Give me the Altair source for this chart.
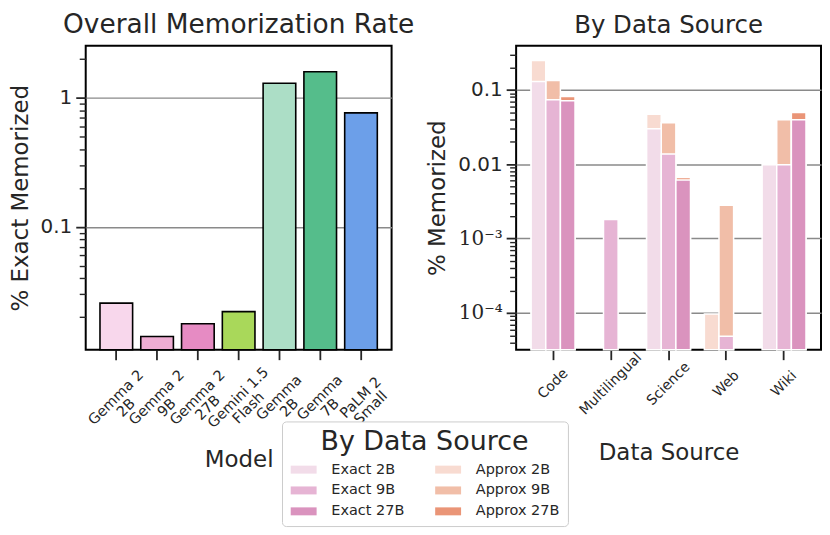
import altair as alt
import pandas as pd

# ---------------- data ----------------
models = ["Gemma 2\n2B", "Gemma 2\n9B", "Gemma 2\n27B", "Gemini 1.5\nFlash",
          "Gemma\n2B", "Gemma\n7B", "PaLM 2\nSmall"]
overall_rates = [0.0256, 0.0141, 0.0177, 0.0220, 1.30, 1.60, 0.766]
model_colors = ["#f8d7ec", "#eeadd3", "#e68bc3", "#a9d85a", "#acdec6", "#55bd8b", "#6c9fe9"]

sources = ["Code", "Multilingual", "Science", "Web", "Wiki"]
sizes = ["2B", "9B", "27B"]
exact_2b = [0.129, None, 0.030, None, 0.0098]
exact_9b = [0.0734, 0.0018, 0.0137, 0.0000485, 0.0098]
exact_27b = [0.071, None, 0.0061, None, 0.0394]
approx_2b = [0.248, None, 0.047, 0.000097, None]
approx_9b = [0.133, None, 0.0359, 0.0028, 0.0394]
approx_27b = [0.081, None, 0.0066, None, 0.0494]

series_order = ["Exact 2B", "Exact 9B", "Exact 27B", "Approx 2B", "Approx 9B", "Approx 27B"]
series_colors = ["#f2dce9", "#e6b4d4", "#da93be", "#f8dbd1", "#f1bea8", "#ea9577"]

left_ticks_major = [0.1, 1]
left_ticks_minor = [0.02, 0.03, 0.04, 0.05, 0.06, 0.07, 0.08, 0.09,
                    0.2, 0.3, 0.4, 0.5, 0.6, 0.7, 0.8, 0.9, 2]
right_ticks_major = [0.0001, 0.001, 0.01, 0.1]
right_ticks_minor = [4e-5, 5e-5, 6e-5, 7e-5, 8e-5, 9e-5,
                     2e-4, 3e-4, 4e-4, 5e-4, 6e-4, 7e-4, 8e-4, 9e-4,
                     2e-3, 3e-3, 4e-3, 5e-3, 6e-3, 7e-3, 8e-3, 9e-3,
                     0.02, 0.03, 0.04, 0.05, 0.06, 0.07, 0.08, 0.09,
                     0.2, 0.3]

LEFT_DOMAIN = [0.01114, 2.54]
RIGHT_DOMAIN = [3.2e-5, 0.39]

FONT = "DejaVu Sans"
INK = "#262626"

# ---------------- left panel ----------------
left_df = pd.DataFrame({"model": models, "rate": overall_rates})

x_left = alt.X(
    "model:N", sort=models,
    scale=alt.Scale(paddingInner=0.2, paddingOuter=0.35),
    axis=alt.Axis(title="Model", labelAngle=315, labelAlign="center", labelBaseline="middle",
                  labelExpr="split(datum.label, '\\n')", labelFontSize=14.5, labelPadding=38,
                  labelLineHeight=14.5,
                  tickSize=10, tickWidth=1.8, tickColor=INK, domain=False, labelColor=INK,
                  labelFont=FONT, titleFont=FONT, titleFontSize=23, titleFontWeight="normal",
                  titleColor=INK, titleY=117, titleBaseline="alphabetic", labelOverlap=False),
)
yl_scale = alt.Scale(type="log", domain=LEFT_DOMAIN, nice=False)

left_bars = alt.Chart(left_df).mark_bar(stroke="black", strokeWidth=1.6).encode(
    x=x_left,
    y=alt.Y("rate:Q", scale=yl_scale,
            axis=alt.Axis(values=left_ticks_major, orient="left",
                          labelExpr="datum.value >= 1 ? '1' : '0.1'",
                          grid=True, gridColor="#8a8a8a", gridWidth=1.5,
                          tickSize=10, tickWidth=1.8, tickColor=INK, domain=False,
                          labelFontSize=20, labelFont=FONT, labelColor=INK, labelPadding=4,
                          title="% Exact Memorized", titleFont=FONT, titleFontSize=23,
                          titleFontWeight="normal", titleColor=INK, titlePadding=8)),
    y2=alt.datum(LEFT_DOMAIN[0]),
    fill=alt.Fill("model:N", sort=models,
                  scale=alt.Scale(domain=models, range=model_colors), legend=None),
)
left_minor = alt.Chart(left_df).mark_bar(opacity=0).encode(
    x=x_left,
    y=alt.Y("rate:Q", scale=yl_scale,
            axis=alt.Axis(values=left_ticks_minor, orient="left", labels=False, grid=False,
                          tickSize=6.5, tickWidth=1.4, tickColor=INK, domain=False, title=None)),
    y2=alt.datum(LEFT_DOMAIN[0]),
)
left = alt.layer(left_bars, left_minor).resolve_axis(y="independent").properties(
    width=307, height=305,
    title=alt.TitleParams("Overall Memorization Rate", fontSize=26.5, font=FONT,
                          fontWeight="normal", color=INK, offset=7),
)

# ---------------- right panel ----------------
rows = []
for kind, table in (("Approx", (approx_2b, approx_9b, approx_27b)),
                    ("Exact", (exact_2b, exact_9b, exact_27b))):
    for size, vals in zip(sizes, table):
        for src, v in zip(sources, vals):
            if v is not None:
                rows.append({"source": src, "size": size, "kind": kind,
                             "series": f"{kind} {size}", "rate": v})
right_df = pd.DataFrame(rows)

x_right = alt.X(
    "source:N", sort=sources,
    scale=alt.Scale(paddingInner=0.24, paddingOuter=0.26),
    axis=alt.Axis(title="Data Source", labelAngle=315, labelAlign="center", labelBaseline="middle",
                  labelFontSize=14, labelPadding=24, tickSize=10, tickWidth=1.8, tickColor=INK,
                  domain=False, labelColor=INK, labelFont=FONT, titleFont=FONT, titleFontSize=23,
                  titleFontWeight="normal", titleColor=INK, titleY=110,
                  titleBaseline="alphabetic", labelOverlap=False),
)
xoff = alt.XOffset("size:N", sort=sizes, scale=alt.Scale(domain=sizes, paddingInner=0, paddingOuter=0))
yr_scale = alt.Scale(type="log", domain=RIGHT_DOMAIN, nice=False)

color_enc = alt.Color(
    "series:N",
    scale=alt.Scale(domain=series_order, range=series_colors),
    legend=alt.Legend(
        title="By Data Source", orient="none", legendX=197, legendY=377,
        columns=2, columnPadding=30, rowPadding=6,
        symbolType="M-1,-0.615H3V0.615H-1Z", symbolSize=169, symbolStrokeWidth=0,
        symbolOpacity=1, labelOffset=27,
        labelFontSize=14.5, labelFont=FONT, labelColor=INK,
        titleFontSize=27, titleFont=FONT, titleFontWeight="normal", titleColor=INK,
        titleAnchor="middle", titlePadding=6, titleLimit=600, labelLimit=300,
        strokeColor="#cccccc", cornerRadius=4, padding=8, fillColor="white",
    ),
)

right_base = alt.Chart(right_df).encode(x=x_right, xOffset=xoff, y2=alt.datum(RIGHT_DOMAIN[0]),
                                        color=color_enc)

label_expr_r = ("datum.value > 0.05 ? '0.1' : datum.value > 0.005 ? '0.01' : "
                "datum.value > 0.0005 ? '10\u207b\u00b3' : '10\u207b\u2074'")

approx_layer = right_base.transform_filter("datum.kind == 'Approx'").mark_bar(
    stroke="white", strokeWidth=1.5).encode(
    y=alt.Y("rate:Q", scale=yr_scale,
            axis=alt.Axis(values=right_ticks_major, orient="left", labelExpr=label_expr_r,
                          labelFont={"condition": {"test": "datum.value < 0.005", "value": "DejaVu Serif"},
                                     "value": FONT},
                          grid=True, gridColor="#8a8a8a", gridWidth=1.5,
                          tickSize=10, tickWidth=1.8, tickColor=INK, domain=False,
                          labelFontSize=20, labelColor=INK, labelPadding=4,
                          title="% Memorized", titleFont=FONT, titleFontSize=23,
                          titleFontWeight="normal", titleColor=INK, titlePadding=8)),
)
exact_layer = right_base.transform_filter("datum.kind == 'Exact'").mark_bar(
    stroke="white", strokeWidth=1.5).encode(
    y=alt.Y("rate:Q", scale=yr_scale, axis=None),
)
minor_layer = right_base.transform_filter("datum.kind == 'Exact'").mark_bar(opacity=0).encode(
    y=alt.Y("rate:Q", scale=yr_scale,
            axis=alt.Axis(values=right_ticks_minor, orient="left", labels=False, grid=False,
                          tickSize=6.5, tickWidth=1.4, tickColor=INK, domain=False, title=None)),
)
right = alt.layer(approx_layer, exact_layer, minor_layer).resolve_axis(y="independent").properties(
    width=306, height=305,
    title=alt.TitleParams("By Data Source", fontSize=24.5, font=FONT,
                          fontWeight="normal", color=INK, offset=7),
)

chart = alt.hconcat(left, right, spacing=10).properties(
    padding={"left": 0, "top": 2, "right": 0, "bottom": 0}
).configure_view(stroke="black", strokeWidth=2)

chart.save("out.html", embed_options={"renderer": "svg", "actions": False})
